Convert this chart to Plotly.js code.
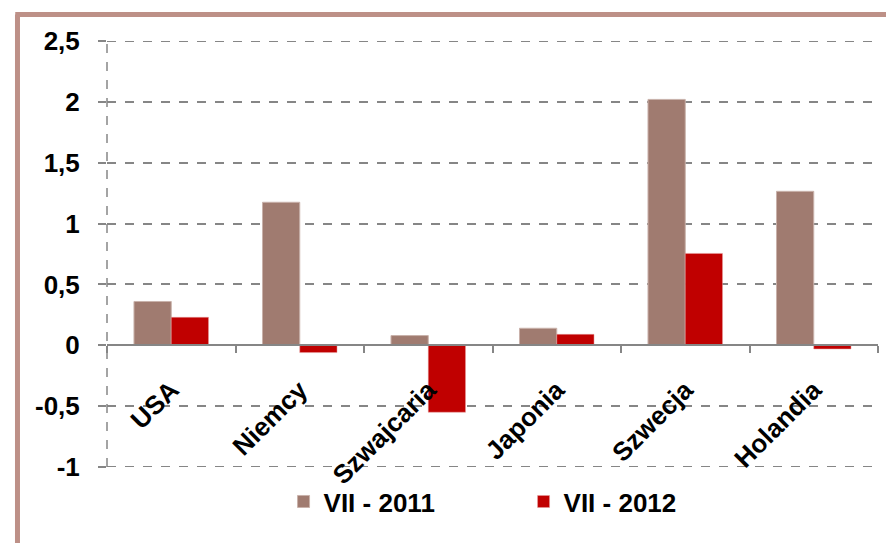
<!DOCTYPE html>
<html>
<head>
<meta charset="utf-8">
<script src="https://cdn.plot.ly/plotly-3.0.1.min.js"></script>
<style>
html,body{margin:0;padding:0;background:#fff;}
#chart{width:886px;height:543px;}
</style>
</head>
<body>
<div id="chart"></div>
<script>
var categories = ["USA", "Niemcy", "Szwajcaria", "Japonia", "Szwecja", "Holandia"];
var seriesNames = ["VII - 2011", "VII - 2012"];
var values2011 = [0.36, 1.175, 0.08, 0.14, 2.02, 1.265];
var values2012 = [0.23, -0.06, -0.55, 0.09, 0.755, -0.03];
var yTickValues = [-1, -0.5, 0, 0.5, 1, 1.5, 2, 2.5];
var yTickLabels = ["-1", "-0,5", "0", "0,5", "1", "1,5", "2", "2,5"];

var FONT = "Liberation Sans, Arial, sans-serif";
var GRID = "#868686";
var BOLD = {family: FONT, size: 26, color: "#000", weight: "bold"};
var Y0 = -1, Y1 = 2.5;

var traces = [
  {type: "bar", name: seriesNames[0], x: categories, y: values2011,
   marker: {color: "#a07b70", line: {color: "#c9b2ab", width: 1}}},
  {type: "bar", name: seriesNames[1], x: categories, y: values2012,
   marker: {color: "#c00000", line: {color: "#e6a0a0", width: 0.5}}}
];

var edgeLines = [Y0, Y1].map(function (v) {
  return {type: "line", xref: "paper", yref: "y", x0: 0, x1: 1, y0: v, y1: v,
          layer: "below", line: {color: GRID, width: 2, dash: "dash"}};
});

var layout = {
  width: 886, height: 543,
  margin: {l: 107, r: 8, t: 41, b: 76},
  paper_bgcolor: "#ffffff", plot_bgcolor: "#ffffff",
  font: {family: FONT, size: 26, color: "#000000"},
  barmode: "group", bargap: 0.42, bargroupgap: 0,
  showlegend: true,
  legend: {orientation: "h", x: 0.229, xanchor: "left", y: -0.026, yanchor: "top",
           bgcolor: "rgba(0,0,0,0)",
           font: BOLD, entrywidth: 195, itemwidth: 30, traceorder: "normal"},
  xaxis: {
    type: "category", anchor: "free", position: (0 - Y0) / (Y1 - Y0),
    showline: true, linecolor: GRID, linewidth: 2,
    ticks: "outside", ticklen: 7, tickwidth: 2, tickcolor: GRID, tickson: "boundaries",
    tickangle: -45, ticklabelstandoff: 18,
    tickfont: BOLD,
    showgrid: false, zeroline: false, fixedrange: true
  },
  yaxis: {
    range: [Y0, Y1], tickvals: yTickValues, ticktext: yTickLabels,
    ticks: "outside", ticklen: 8, tickwidth: 2, tickcolor: GRID,
    ticklabelstandoff: 13,
    tickfont: BOLD,
    showgrid: true, gridcolor: GRID, gridwidth: 2, griddash: "dash",
    zeroline: false, showline: false, fixedrange: true
  },
  shapes: edgeLines.concat([
    {type: "line", xref: "paper", yref: "y", x0: 0, x1: 0, y0: Y0, y1: Y1,
     line: {color: GRID, width: 1.5, dash: "dash"}},
    {type: "line", xref: "paper", yref: "paper", x0: -0.1161, x1: -0.1161, y0: -0.19, y1: 1.062,
     line: {color: "#bd9087", width: 5}},
    {type: "line", xref: "paper", yref: "paper", x0: -0.119, x1: 1.02, y0: 1.0622, y1: 1.0622,
     line: {color: "#bd9087", width: 5}}
  ])
};

Plotly.newPlot("chart", traces, layout, {displayModeBar: false, staticPlot: true});
</script>
</body>
</html>
